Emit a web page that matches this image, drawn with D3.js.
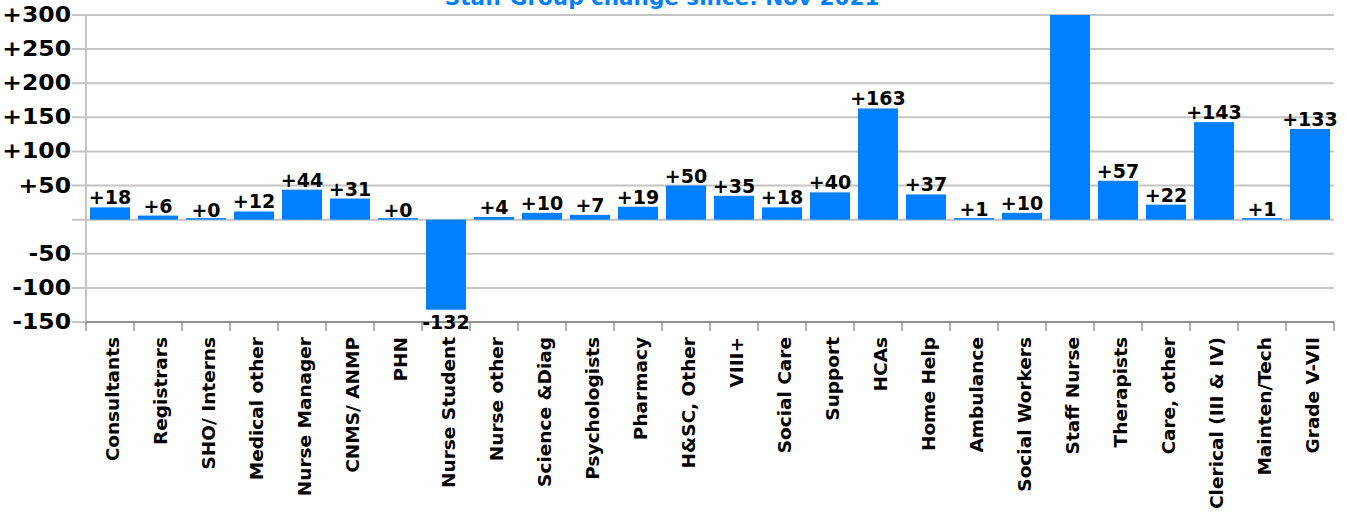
<!DOCTYPE html>
<html>
<head>
<meta charset="utf-8">
<script src="https://cdn.jsdelivr.net/npm/d3@7"></script>
<style>
  body { margin: 0; background: #ffffff; }
  text { font-family: "DejaVu Sans", Verdana, sans-serif; font-weight: bold; }
</style>
</head>
<body>
<div id="chart"></div>
<script>
const width = 1347;
const height = 527;

const categories = ["Consultants", "Registrars", "SHO/ Interns", "Medical other", "Nurse Manager",
  "CNMS/ ANMP", "PHN", "Nurse Student", "Nurse other", "Science &Diag", "Psychologists",
  "Pharmacy", "H&SC, Other", "VIII+", "Social Care", "Support", "HCAs", "Home Help",
  "Ambulance", "Social Workers", "Staff Nurse", "Therapists", "Care, other",
  "Clerical (III & IV)", "Mainten/Tech", "Grade V-VII"];
const values = [18, 6, 0, 12, 44, 31, 0, -132, 4, 10, 7, 19, 50, 35, 18, 40, 163, 37, 1, 10, 330, 57, 22, 143, 1, 133];
const yTicks = [-150, -100, -50, 0, 50, 100, 150, 200, 250, 300];
const title = "Staff Group change since: Nov 2021";

const plotLeft = 86, plotRight = 1334, plotTop = 15, plotBottom = 322;

const svg = d3.select("#chart")
  .append("svg")
  .attr("width", width)
  .attr("height", height);

const x = d3.scaleBand()
  .domain(categories)
  .range([plotLeft, plotRight])
  .paddingInner(1 / 6)
  .paddingOuter(1 / 12);

const y = d3.scaleLinear()
  .domain([-150, 300])
  .range([plotBottom, plotTop]);

const fmt = d => (d < 0 ? "-" : "+") + Math.abs(d);

// gridlines + y labels
svg.append("g")
  .selectAll("line")
  .data(yTicks)
  .join("line")
  .attr("x1", plotLeft - 14)
  .attr("x2", plotRight)
  .attr("y1", d => y(d))
  .attr("y2", d => y(d))
  .attr("stroke", "#c4c4c4")
  .attr("stroke-width", 2);

svg.append("g")
  .selectAll("text")
  .data(yTicks.filter(d => d !== 0))
  .join("text")
  .attr("transform", d => `translate(${plotLeft - 15}, ${y(d) + 7}) scale(1.12, 1)`)
  .attr("text-anchor", "end")
  .attr("font-size", 21)
  .attr("fill", "#000")
  .text(fmt);

// y axis line
svg.append("line")
  .attr("x1", plotLeft).attr("x2", plotLeft)
  .attr("y1", plotTop).attr("y2", plotBottom)
  .attr("stroke", "#c4c4c4")
  .attr("stroke-width", 2);

// bars (clipped to the axis range)
const clipped = v => Math.max(-150, Math.min(300, v));
svg.append("g")
  .selectAll("rect")
  .data(values)
  .join("rect")
  .attr("x", (d, i) => x(categories[i]))
  .attr("width", x.bandwidth())
  .attr("y", d => Math.min(y(clipped(d)), y(0) - (d >= 0 ? 1.5 : 0)))
  .attr("height", d => Math.max(Math.abs(y(clipped(d)) - y(0)), 1.5))
  .attr("fill", "#0080ff");

// x axis at bottom
const xAxis = svg.append("g")
  .attr("transform", `translate(0, ${plotBottom})`);
xAxis.append("line")
  .attr("x1", plotLeft).attr("x2", plotRight)
  .attr("stroke", "#808080").attr("stroke-width", 1.5);
xAxis.selectAll("line.tick")
  .data(d3.range(categories.length + 1))
  .join("line")
  .attr("class", "tick")
  .attr("x1", i => plotLeft + i * x.step())
  .attr("x2", i => plotLeft + i * x.step())
  .attr("y1", 0).attr("y2", 9)
  .attr("stroke", "#808080").attr("stroke-width", 1.2);

// category labels
svg.append("g")
  .selectAll("text")
  .data(categories)
  .join("text")
  .attr("transform", d => `translate(${x(d) + x.bandwidth() / 2 + 9}, ${plotBottom + 15}) rotate(-90)`)
  .attr("text-anchor", "end")
  .attr("font-size", 18.5)
  .attr("fill", "#000")
  .text(d => d);

// value labels
svg.append("g")
  .selectAll("text")
  .data(values.map((v, i) => ({ v, c: categories[i] })).filter(d => d.v <= 300))
  .join("text")
  .attr("x", d => x(d.c) + x.bandwidth() / 2)
  .attr("y", d => d.v >= 0 ? y(d.v) - 3 : y(d.v) + 19)
  .attr("text-anchor", "middle")
  .attr("font-size", 19)
  .attr("fill", "#000")
  .text(d => fmt(d.v));

// title (mostly cut off at the top, on a white box)
svg.append("rect")
  .attr("x", 443).attr("y", 0)
  .attr("width", 441).attr("height", 14)
  .attr("fill", "#fff");
svg.append("text")
  .attr("x", 662)
  .attr("y", 5)
  .attr("text-anchor", "middle")
  .attr("font-size", 21.5)
  .attr("fill", "#0080ff")
  .text(title);
</script>
</body>
</html>
